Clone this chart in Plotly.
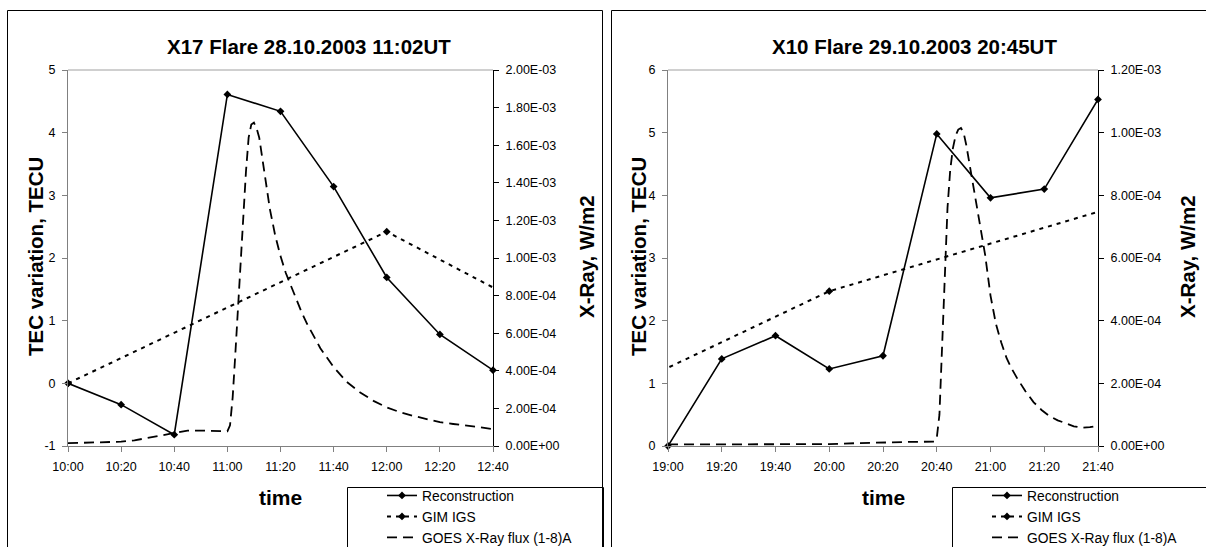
import plotly.graph_objects as go

W, H = 1206, 547

# ---------------- data ----------------
DAY1 = "2003-10-28"
DAY2 = "2003-10-29"

title1 = "X17 Flare 28.10.2003 11:02UT"
title2 = "X10 Flare 29.10.2003 20:45UT"

recon1_t = ["10:00", "10:20", "10:40", "11:00", "11:20", "11:40", "12:00", "12:20", "12:40"]
recon1_v = [0.0, -0.34, -0.82, 4.61, 4.34, 3.14, 1.69, 0.78, 0.21]

gim1_t = ["10:00", "12:00", "14:00"]
gim1_v = [0.0, 2.42, -0.25]

goes1_t = ["10:00", "10:10", "10:20", "10:25", "10:30", "10:35", "10:40", "10:45", "10:50", "10:55",
           "11:00", "11:01", "11:02", "11:03", "11:04", "11:05", "11:06", "11:07", "11:08", "11:09",
           "11:10", "11:11", "11:12", "11:13", "11:14", "11:15", "11:16", "11:18", "11:20", "11:22",
           "11:25", "11:28", "11:30", "11:35", "11:40", "11:45", "11:50", "11:55", "12:00", "12:05",
           "12:10", "12:15", "12:20", "12:25", "12:30", "12:35", "12:40"]
goes1_v = [1.5e-5, 1.9e-5, 2.3e-5, 3.0e-5, 4.3e-5, 6.0e-5, 7.3e-5, 8.2e-5, 8.2e-5, 8.0e-5,
           7.8e-5, 1.1e-4, 2.6e-4, 4.9e-4, 7.4e-4, 9.6e-4, 1.22e-3, 1.46e-3, 1.64e-3, 1.71e-3,
           1.72e-3, 1.69e-3, 1.64e-3, 1.55e-3, 1.45e-3, 1.35e-3, 1.26e-3, 1.12e-3, 1.01e-3, 9.2e-4,
           8.1e-4, 7.1e-4, 6.5e-4, 5.2e-4, 4.2e-4, 3.4e-4, 2.85e-4, 2.4e-4, 2.05e-4, 1.8e-4,
           1.6e-4, 1.42e-4, 1.27e-4, 1.17e-4, 1.1e-4, 1.0e-4, 9.0e-5]

recon2_t = ["19:00", "19:20", "19:40", "20:00", "20:20", "20:40", "21:00", "21:20", "21:40"]
recon2_v = [0.0, 1.39, 1.76, 1.23, 1.44, 4.98, 3.96, 4.10, 5.53]

gim2_t = ["18:00", "20:00", "22:00"]
gim2_v = [0.03, 2.47, 3.99]

goes2_t = ["19:00", "19:20", "19:40", "20:00", "20:10", "20:20", "20:30", "20:39", "20:40", "20:41",
           "20:42", "20:43", "20:44", "20:45", "20:46", "20:47", "20:48", "20:49", "20:50", "20:51",
           "20:52", "20:53", "20:54", "20:55", "20:56", "20:57", "20:58", "21:00", "21:02", "21:04",
           "21:06", "21:08", "21:10", "21:13", "21:16", "21:19", "21:22", "21:25", "21:28", "21:31",
           "21:34", "21:37", "21:40"]
goes2_v = [5e-6, 5e-6, 5e-6, 6e-6, 9e-6, 1.2e-5, 1.3e-5, 1.4e-5, 2.5e-5, 1.0e-4,
           3.2e-4, 5.6e-4, 7.6e-4, 8.8e-4, 9.5e-4, 9.9e-4, 1.01e-3, 1.015e-3, 1.0e-3, 9.6e-4,
           9.1e-4, 8.6e-4, 8.1e-4, 7.6e-4, 7.1e-4, 6.6e-4, 6.1e-4, 4.8e-4, 3.9e-4, 3.3e-4,
           2.8e-4, 2.45e-4, 2.15e-4, 1.75e-4, 1.4e-4, 1.15e-4, 9.5e-5, 8.2e-5, 7.2e-5, 6.3e-5,
           5.8e-5, 6.0e-5, 6.5e-5]

tec1_ticks = [-1, 0, 1, 2, 3, 4, 5]
tec2_ticks = [0, 1, 2, 3, 4, 5, 6]
xray1_ticks = [0.0, 2e-4, 4e-4, 6e-4, 8e-4, 1.0e-3, 1.2e-3, 1.4e-3, 1.6e-3, 1.8e-3, 2.0e-3]
xray2_ticks = [0.0, 2e-4, 4e-4, 6e-4, 8e-4, 1.0e-3, 1.2e-3]

names = ["Reconstruction", "GIM IGS", "GOES X-Ray flux (1-8)A"]
y_title = "TEC variation, TECU"
y2_title = "X-Ray, W/m2"
x_title = "time"


def ts(day, hhmm):
    return f"{day} {hhmm}"


FONT = "Liberation Sans, Arial, sans-serif"
GRAY = "#808080"

fig = go.Figure()

panels = [
    dict(day=DAY1, rt=recon1_t, rv=recon1_v, gt=gim1_t, gv=gim1_v, xt=goes1_t, xv=goes1_v,
         xa="x", ya="y", ya2="y2", leg="legend"),
    dict(day=DAY2, rt=recon2_t, rv=recon2_v, gt=gim2_t, gv=gim2_v, xt=goes2_t, xv=goes2_v,
         xa="x2", ya="y3", ya2="y4", leg="legend2"),
]

for p in panels:
    fig.add_trace(go.Scatter(
        x=[ts(p["day"], t) for t in p["rt"]], y=p["rv"], name=names[0],
        mode="lines+markers", line=dict(color="black", width=1.6),
        marker=dict(symbol="diamond", size=6, color="black"),
        xaxis=p["xa"], yaxis=p["ya"], legend=p["leg"], cliponaxis=False))
    fig.add_trace(go.Scatter(
        x=[ts(p["day"], t) for t in p["gt"]], y=p["gv"], name=names[1],
        mode="lines+markers", line=dict(color="black", width=2, dash="4px,5px"),
        marker=dict(symbol="diamond", size=6, color="black"),
        xaxis=p["xa"], yaxis=p["ya"], legend=p["leg"]))
    fig.add_trace(go.Scatter(
        x=[ts(p["day"], t) for t in p["xt"]], y=p["xv"], name=names[2],
        mode="lines", line=dict(color="black", width=1.8, dash="10px,6px"),
        xaxis=p["xa"], yaxis=p["ya2"], legend=p["leg"]))

tickfont = dict(family=FONT, size=12.5, color="black")

y_dom = [1 - 446 / H, 1 - 70 / H]


def xaxis_cfg(x0, x1, day, h0, h1, anchor):
    return dict(domain=[x0 / W, x1 / W], type="date", range=[ts(day, h0), ts(day, h1)],
                tickformat="%H:%M", dtick=20 * 60 * 1000, tick0=ts(day, h0),
                showline=True, linecolor=GRAY, linewidth=1, mirror=False,
                ticks="outside", ticklen=5, tickcolor=GRAY, showgrid=False, zeroline=False,
                tickfont=tickfont, ticklabelstandoff=4, anchor=anchor, fixedrange=True)


def yleft_cfg(rng, ticks, anchor):
    return dict(domain=y_dom, range=rng, tickvals=ticks, ticktext=[str(v) for v in ticks],
                showline=True, linecolor=GRAY, linewidth=1, ticks="outside", ticklen=5,
                tickcolor=GRAY, showgrid=False, zeroline=False, tickfont=tickfont,
                ticklabelstandoff=4, anchor=anchor, fixedrange=True)


def yright_cfg(rng, ticks, over, anchor):
    return dict(range=rng, tickvals=ticks, ticktext=[f"{v:.2E}" for v in ticks],
                overlaying=over, side="right", anchor=anchor,
                showline=True, linecolor="black", linewidth=1, ticks="outside", ticklen=5,
                tickcolor="black", showgrid=False, zeroline=False, tickfont=tickfont,
                ticklabelstandoff=4, fixedrange=True)


legend_base = dict(xanchor="left", yanchor="top", bgcolor="rgba(0,0,0,0)", borderwidth=0,
                   font=dict(family=FONT, size=13.8, color="black"), tracegroupgap=0,
                   itemclick=False, itemdoubleclick=False)

fig.update_layout(
    width=W, height=H, margin=dict(l=0, r=0, t=0, b=0, autoexpand=False),
    paper_bgcolor="white", plot_bgcolor="white",
    font=dict(family=FONT, color="black"),
    xaxis=xaxis_cfg(68, 493, DAY1, "10:00", "12:40", "y"),
    yaxis=yleft_cfg([-1, 5], tec1_ticks, "x"),
    yaxis2=yright_cfg([0, 2.0e-3], xray1_ticks, "y", "x"),
    xaxis2=xaxis_cfg(668, 1098, DAY2, "19:00", "21:40", "y3"),
    yaxis3=yleft_cfg([0, 6], tec2_ticks, "x2"),
    yaxis4=yright_cfg([0, 1.2e-3], xray2_ticks, "y3", "x2"),
    legend=dict(x=382 / W, y=1 - 480 / H, **legend_base),
    legend2=dict(x=987 / W, y=1 - 480 / H, **legend_base),
    showlegend=True,
)


def px_x(v):
    return v / W


def px_y(v):
    return 1 - v / H


shapes = []
# panel frames
shapes.append(dict(type="rect", xref="paper", yref="paper", x0=px_x(7.5), x1=px_x(602.5),
                   y0=px_y(10.5), y1=px_y(620), line=dict(color="black", width=1)))
shapes.append(dict(type="rect", xref="paper", yref="paper", x0=px_x(611.5), x1=px_x(1300),
                   y0=px_y(10.5), y1=px_y(620), line=dict(color="black", width=1)))
# top borders of plot areas
for xa, ya in [("x", "y"), ("x2", "y3")]:
    shapes.append(dict(type="line", xref=f"{xa} domain", yref=f"{ya} domain", x0=0, x1=1,
                       y0=1, y1=1, line=dict(color="#a0a0a0", width=1)))
# legend boxes
shapes.append(dict(type="rect", xref="paper", yref="paper", x0=px_x(347.5), x1=px_x(603.5),
                   y0=px_y(487.5), y1=px_y(620), line=dict(color="black", width=1),
                   fillcolor="white", layer="below"))
shapes.append(dict(type="rect", xref="paper", yref="paper", x0=px_x(952.5), x1=px_x(1300),
                   y0=px_y(487.5), y1=px_y(620), line=dict(color="black", width=1),
                   fillcolor="white", layer="below"))
fig.update_layout(shapes=shapes)

ann = []


def add_text(text, x, y, size, angle=0):
    ann.append(dict(text=f"<b>{text}</b>", x=px_x(x), y=px_y(y), xref="paper", yref="paper",
                    xanchor="center", yanchor="middle", showarrow=False, textangle=angle,
                    font=dict(family=FONT, size=size, color="black")))


add_text(title1, 309, 47, 20.5)
add_text(title2, 914, 47, 20.5)
add_text(y_title, 35, 257, 20.5, -90)
add_text(y_title, 638, 257, 20.5, -90)
add_text(y2_title, 586, 257, 20.5, -90)
add_text(y2_title, 1187, 257, 20.5, -90)
add_text(x_title, 280, 497, 21)
add_text(x_title, 883, 497, 21)
fig.update_layout(annotations=ann)

fig.write_html("out.html")
